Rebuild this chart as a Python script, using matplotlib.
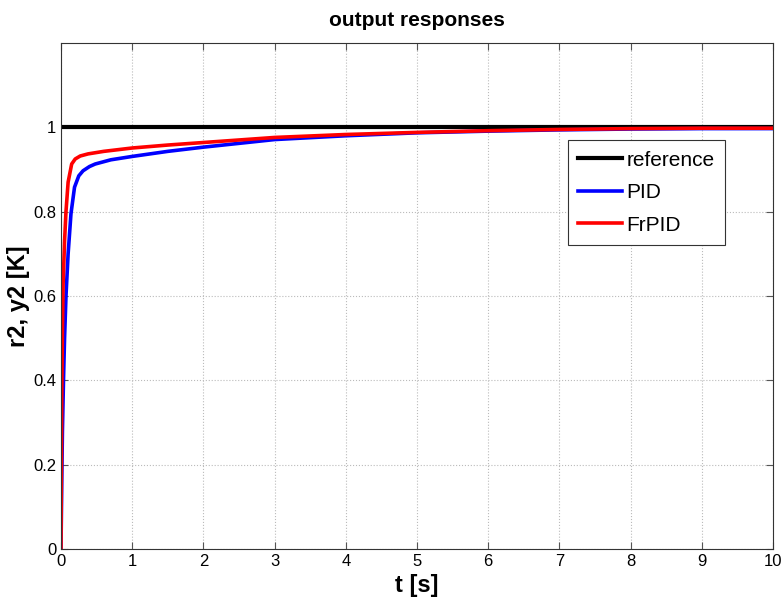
import matplotlib
matplotlib.use('Agg')
import matplotlib.pyplot as plt

plt.rcParams['font.family'] = ['Liberation Sans Narrow', 'Liberation Sans', 'DejaVu Sans']

# values
t_ref = [0, 10]
y_ref = [1, 1]

t_pid = [0, 0.01, 0.02, 0.035, 0.05, 0.07, 0.1, 0.14, 0.19, 0.25, 0.31, 0.4, 0.48,
         0.7, 1.0, 1.5, 2, 3, 4, 5, 6, 7, 8, 9, 10]
y_pid = [0, 0.15, 0.28, 0.40, 0.50, 0.60, 0.70, 0.795, 0.858, 0.885, 0.897, 0.907, 0.913,
         0.923, 0.931, 0.943, 0.953, 0.971, 0.980, 0.987, 0.991, 0.994, 0.996, 0.997, 0.997]

t_fr = [0, 0.01, 0.02, 0.03, 0.05, 0.07, 0.1, 0.15, 0.2, 0.27, 0.38, 0.6, 1.0,
        1.5, 2, 3, 4, 5, 6, 7, 8, 9, 10]
y_fr = [0, 0.35, 0.52, 0.63, 0.73, 0.80, 0.87, 0.913, 0.925, 0.932, 0.937, 0.943, 0.951,
        0.958, 0.964, 0.976, 0.983, 0.988, 0.992, 0.995, 0.997, 0.998, 0.998]

fig = plt.figure(figsize=(7.84, 6.09), dpi=100)
ax = fig.add_axes([0.0778, 0.0985, 0.9082, 0.8309])

ax.plot(t_ref, y_ref, color='black', lw=3, label='reference')
ax.plot(t_pid, y_pid, color='blue', lw=2.6, label='PID')
ax.plot(t_fr, y_fr, color='red', lw=2.6, label='FrPID')

ax.set_xlim(0, 10)
ax.set_ylim(0, 1.2)
ax.set_xticks(range(11))
ax.set_yticks([0, 0.2, 0.4, 0.6, 0.8, 1])
ax.set_yticklabels(['0', '0.2', '0.4', '0.6', '0.8', '1'])
ax.tick_params(direction='in', top=True, right=True, labelsize=12, length=5, color='#555555')
for s in ax.spines.values():
    s.set_color('#333333')
ax.grid(True, linestyle=':', color='#bbbbbb', lw=0.8)

ax.set_title('output responses', fontsize=15, fontweight='bold', pad=12)
ax.set_xlabel('t [s]', fontsize=17, fontweight='bold', labelpad=4)
ax.set_ylabel('r2, y2 [K]', fontsize=17, fontweight='bold', labelpad=2)

leg = ax.legend(loc='upper left', bbox_to_anchor=(0.712, 0.808), fontsize=15,
                fancybox=False, framealpha=1, edgecolor='#333333',
                handlelength=2.1, borderpad=0.5, labelspacing=0.65, handletextpad=0.2,
                borderaxespad=0)
leg.get_frame().set_linewidth(0.8)

fig.savefig('out.png', dpi=100)
